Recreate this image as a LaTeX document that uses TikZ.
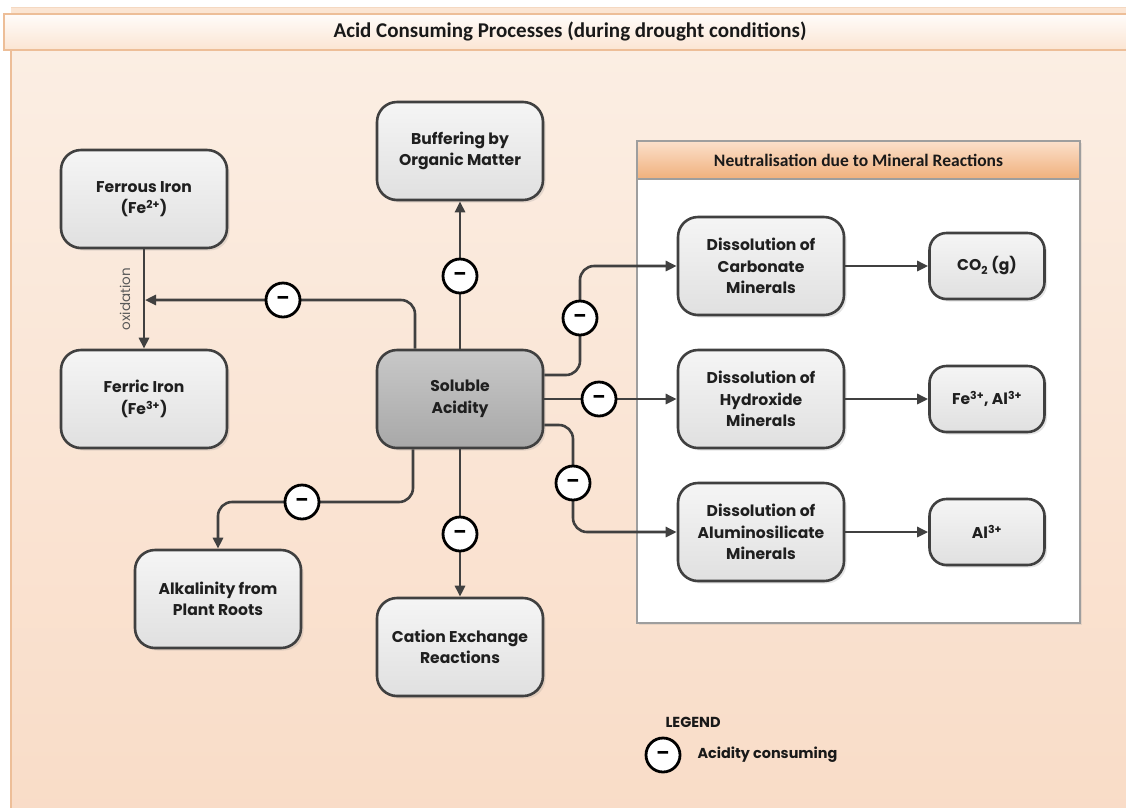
\documentclass[tikz,border=0pt]{standalone}
\usepackage{fontspec}
\setmainfont{Poppins}
\newfontfamily\titlefont{Carlito}
\usetikzlibrary{arrows.meta,shadows}

\definecolor{bgtop}{HTML}{FBEEE3}
\definecolor{bgbot}{HTML}{F9DCC7}
\definecolor{frameline}{HTML}{EDBE98}
\definecolor{bartop}{HTML}{FFFCFA}
\definecolor{barbot}{HTML}{FBE5D3}
\definecolor{linegrey}{HTML}{404040}
\definecolor{boxtop}{HTML}{F5F5F5}
\definecolor{boxbot}{HTML}{E0E0E0}
\definecolor{soltop}{HTML}{C8C8C8}
\definecolor{solbot}{HTML}{A8A8A8}
\definecolor{hdrtop}{HTML}{FBE0CB}
\definecolor{hdrbot}{HTML}{F0B07C}
\definecolor{panelline}{HTML}{9E9E9E}

\begin{document}
\begin{tikzpicture}[x=1pt,y=-1pt,
  box/.style={draw=linegrey, line width=2.6pt, rounded corners=20pt,
    minimum width=166pt, minimum height=98pt, top color=boxtop, bottom color=boxbot,
    align=center, text=black!88, font=\fontsize{15.6}{21.5}\selectfont\bfseries,
    drop shadow={shadow xshift=2.5pt, shadow yshift=-2.5pt, opacity=0.2}},
  prodbox/.style={box, rounded corners=17pt, minimum width=115pt, minimum height=66pt},
  solbox/.style={box, top color=soltop, bottom color=solbot},
  conn/.style={draw=linegrey, line width=2.6pt, rounded corners=14pt},
  arr/.style={conn, -{Triangle[length=11pt,width=10pt]}},
  minus/.style={circle, draw=black, fill=white, line width=2.8pt, minimum size=34pt,
    inner sep=0pt, font=\fontsize{19}{19}\selectfont\bfseries},
]
\useasboundingbox (0,0) rectangle (1126,807);

% page background and title bar
\shade[top color=bgtop, bottom color=bgbot] (11,50) rectangle (1140,820);
\draw[frameline, line width=1.5pt] (11,820) -- (11,50);
\fill[barbot] (11,7) rectangle (1140,14);
\draw[frameline!60, line width=1pt] (11,7.5) -- (1140,7.5);
\shade[top color=bartop, bottom color=barbot] (4,14) rectangle (1140,50);
\draw[frameline, line width=1.2pt] (1140,14) -- (4,14) -- (4,50) -- (1140,50);
\node[font=\titlefont\bfseries\fontsize{21}{21}\selectfont, text=black!90] (title) at (570,31)
  {Acid Consuming Processes (during drought conditions)};

% mineral reactions panel
\filldraw[fill=white, draw=panelline, line width=1.5pt,
  drop shadow={shadow xshift=2pt, shadow yshift=-2pt, opacity=0.15}] (637,141) rectangle (1080,623);
\shade[top color=hdrtop, bottom color=hdrbot] (637,141) rectangle (1080,179);
\draw[panelline, line width=1.5pt] (637,141) rectangle (1080,179);
\node[font=\titlefont\bfseries\fontsize{17.5}{17.5}\selectfont, text=black!90] (paneltitle) at (858.5,160)
  {Neutralisation due to Mineral Reactions};

% process boxes
\node[box] (ferrous) at (144,199) {Ferrous Iron\\(Fe\textsuperscript{2+})};
\node[box] (ferric) at (144,399) {Ferric Iron\\(Fe\textsuperscript{3+})};
\node[box] (buff) at (460,151) {Buffering by\\Organic Matter};
\node[solbox] (sol) at (460,399) {Soluble\\Acidity};
\node[box] (alk) at (218,599) {Alkalinity from\\Plant Roots};
\node[box] (cat) at (460,647) {Cation Exchange\\Reactions};
\node[box] (carb) at (761,266) {Dissolution of\\Carbonate\\Minerals};
\node[box] (hyd) at (761,399) {Dissolution of\\Hydroxide\\Minerals};
\node[box] (alu) at (761,532) {Dissolution of\\Aluminosilicate\\Minerals};
\node[prodbox] (co2) at (987,266) {CO\textsubscript{2} (g)};
\node[prodbox] (feal) at (987,399) {Fe\textsuperscript{3+}, Al\textsuperscript{3+}};
\node[prodbox] (al) at (987,532) {Al\textsuperscript{3+}};

% route corners
\coordinate (c1) at (415,300);
\coordinate (c3a) at (580,375);
\coordinate (c3b) at (580,266);
\coordinate (c5a) at (573,425);
\coordinate (c5b) at (573,532);
\coordinate (c6a) at (413,502);
\coordinate (c6b) at (218,502);

% connectors
\draw[arr] (ferrous.south) -- (ferric.north)
  node[midway, left=9pt, rotate=90, anchor=south, font=\fontsize{13.5}{13.5}\selectfont, text=black!65] (oxlabel) {oxidation};
\draw[arr, shorten >=1pt] (sol.north -| c1) -- (c1) -- (ferrous.south |- c1);
\draw[arr] (sol.north) -- (buff.south);
\draw[arr] (sol.east |- c3a) -- (c3a) -- (c3b) -- (carb.west);
\draw[arr] (sol.east) -- (hyd.west);
\draw[arr] (sol.east |- c5a) -- (c5a) -- (c5b) -- (alu.west);
\draw[arr] (sol.south -| c6a) -- (c6a) -- (c6b) -- (alk.north);
\draw[arr] (sol.south) -- (cat.north);
\draw[arr] (carb.east) -- (co2.west);
\draw[arr] (hyd.east) -- (feal.west);
\draw[arr] (alu.east) -- (al.west);

% acidity consuming markers
\node[minus] (m1) at (283,300) {–};
\node[minus] (m2) at (460,276) {–};
\node[minus] (m3) at (580,318) {–};
\node[minus] (m4) at (599,399) {–};
\node[minus] (m5) at (573,483) {–};
\node[minus] (m6) at (302,502) {–};
\node[minus] (m7) at (460,534) {–};

% legend
\node[anchor=west, font=\fontsize{14.5}{14.5}\selectfont\bfseries, text=black!90] (legend) at (662,722) {LEGEND};
\node[minus] (lm) at (663,755) {–};
\node[anchor=west, font=\fontsize{14.4}{14.4}\selectfont\bfseries, text=black!90] (legtext) at (694,755) {Acidity consuming};
\end{tikzpicture}
\end{document}
